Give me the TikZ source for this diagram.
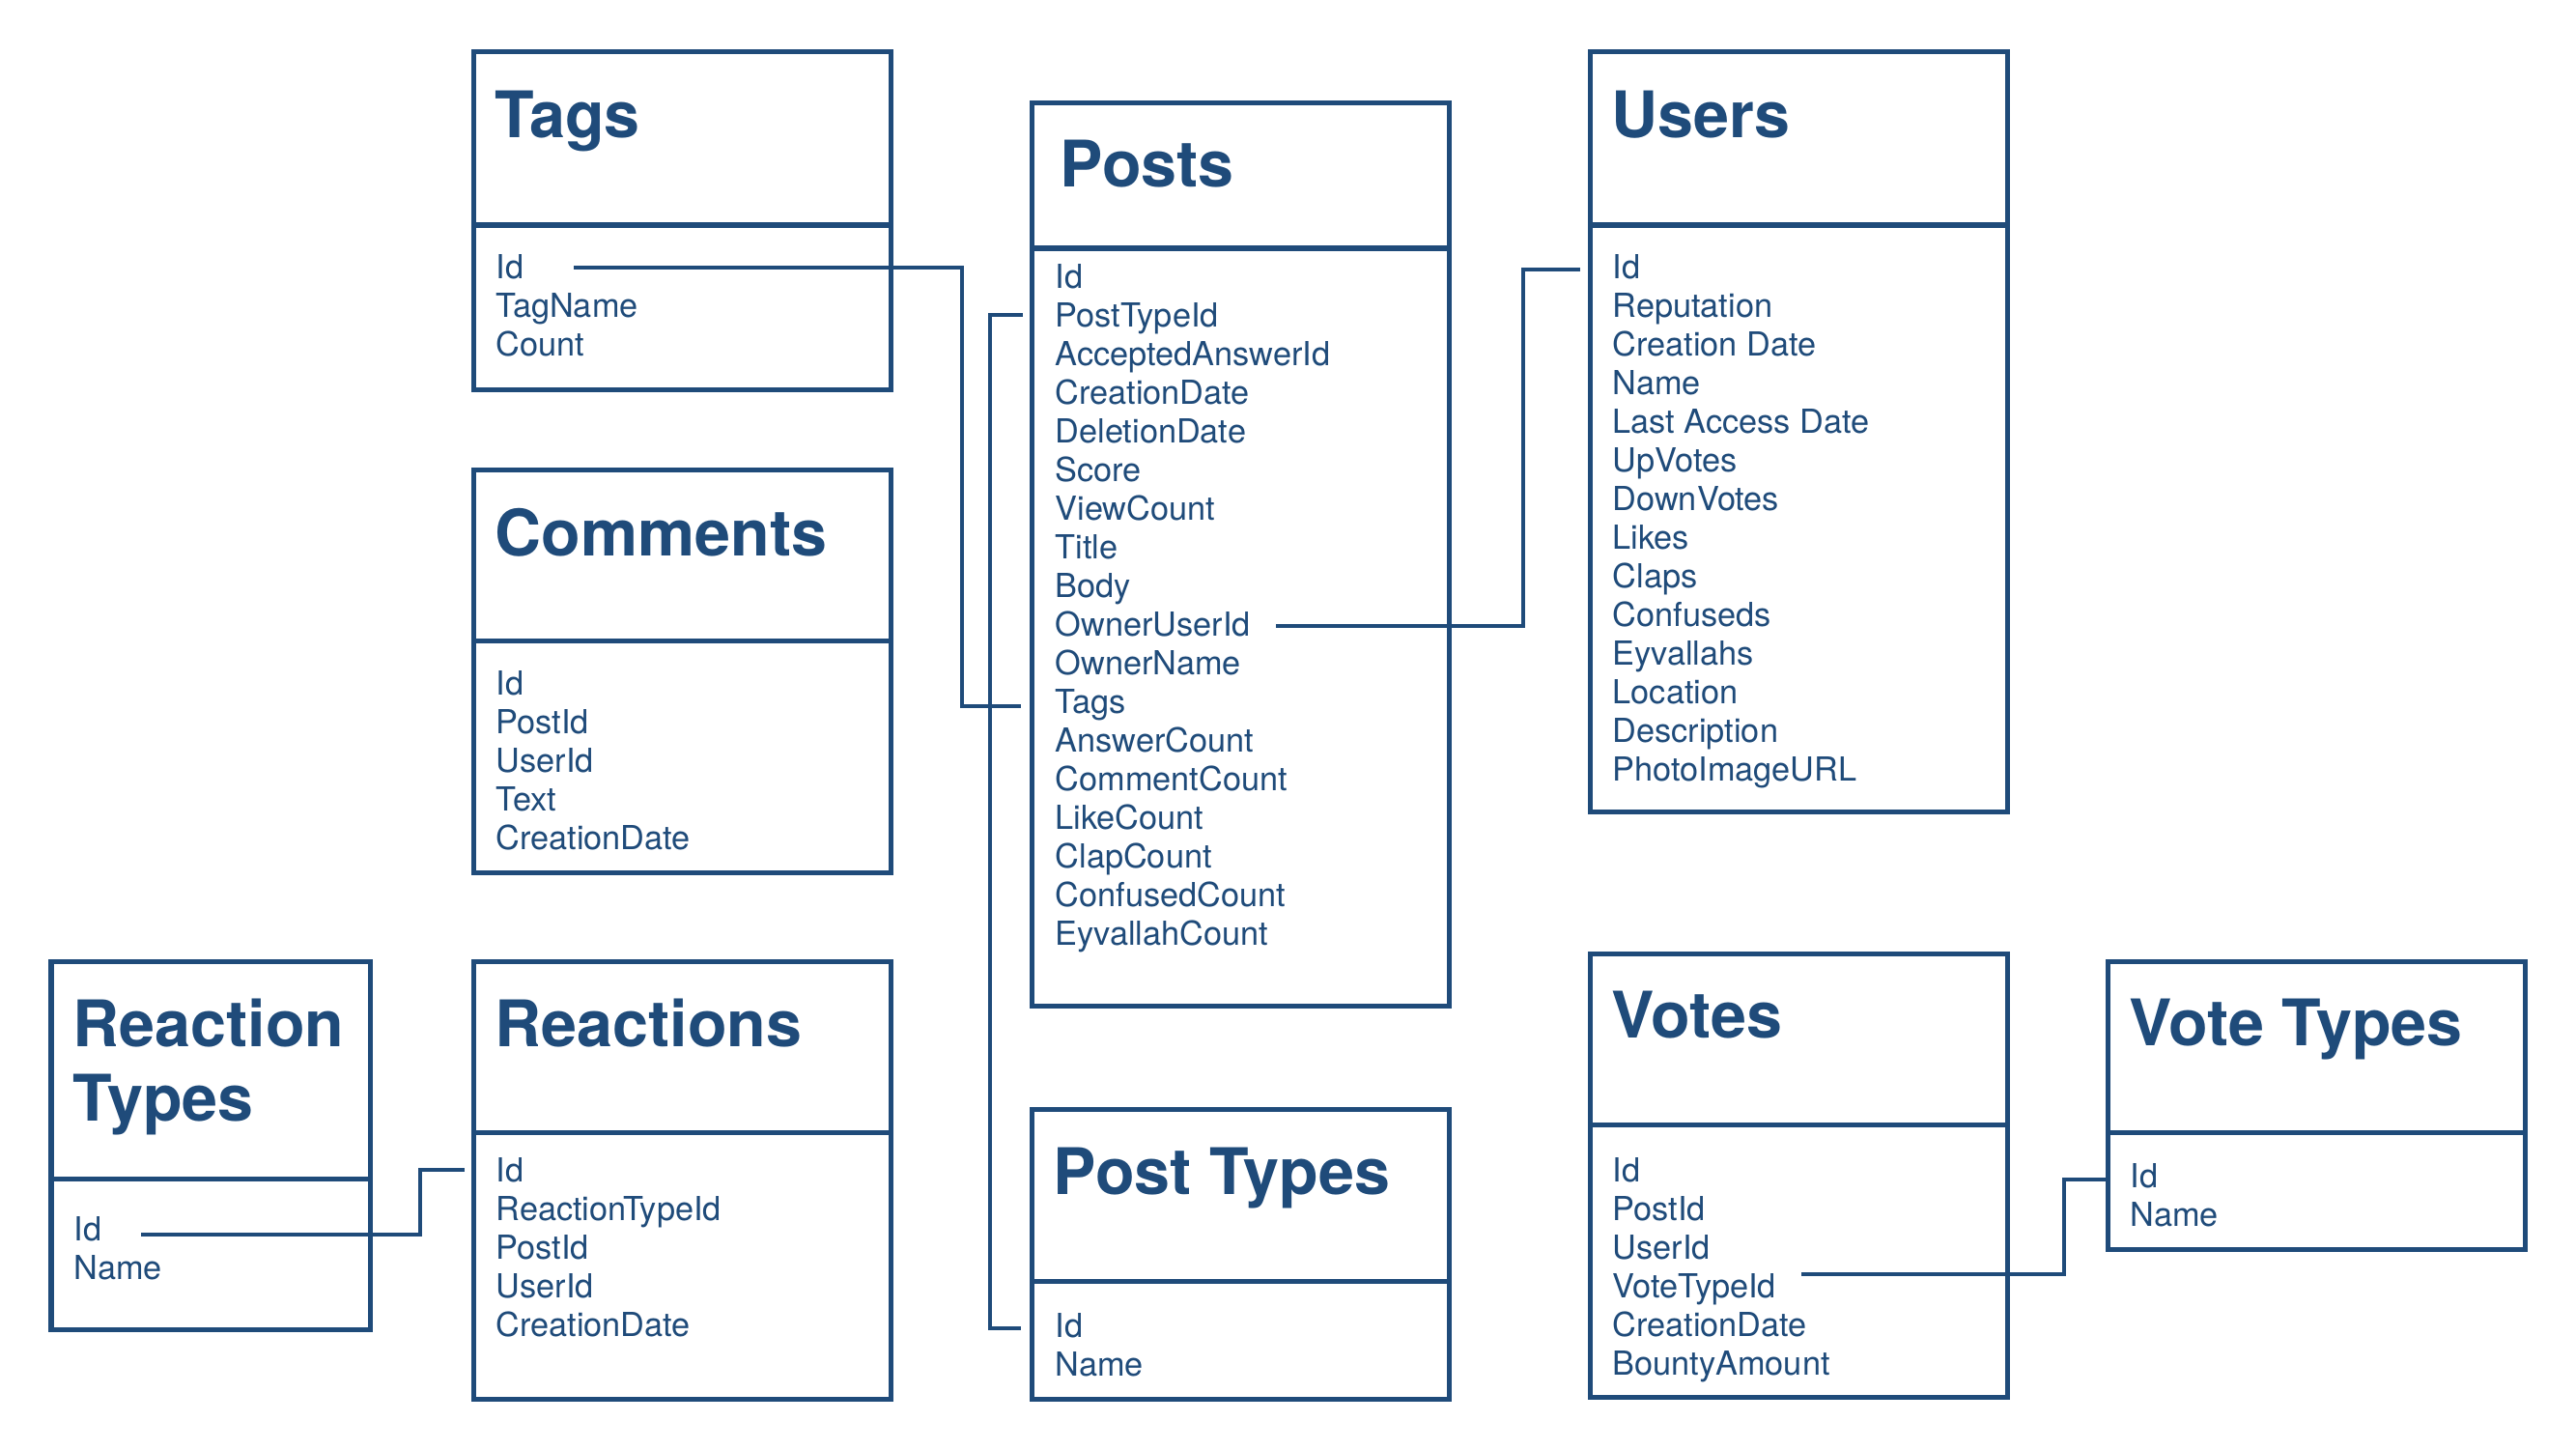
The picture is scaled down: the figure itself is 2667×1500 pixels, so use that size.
\documentclass[tikz,border=0pt]{standalone}
\usepackage{fontspec}
\setmainfont{TeX Gyre Heros}
\definecolor{dbl}{HTML}{1F4B7A}
\begin{document}
\begin{tikzpicture}[x=0.01cm,y=-0.01cm,
  tbl/.style={draw=dbl, line width=0.05cm, anchor=north west, inner sep=0pt, outer sep=0pt, minimum width=4.32cm},
  rule/.style={draw=dbl, line width=0.05cm},
  ttl/.style={anchor=base west, inner sep=0pt, text=dbl, font=\fontsize{18.9}{21.9}\selectfont\bfseries},
  fld/.style={anchor=base west, inner sep=0pt, text=dbl, font=\fontsize{9.75}{11.38}\selectfont},
  link/.style={draw=dbl, line width=0.034cm}]
\fill[white] (0,0) rectangle (2667,1500);
\useasboundingbox (0,0) rectangle (2667,1500);

% ---------- boxes ----------
\node[tbl, minimum height=3.49cm] (tags) at (490,54) {};
\draw[rule] (490,233) -- (922,233);
\node[tbl, minimum height=4.17cm] (comments) at (490,486) {};
\draw[rule] (490,663) -- (922,663);
\node[tbl, minimum width=3.30cm, minimum height=3.81cm] (rtypes) at (53,995) {};
\draw[rule] (53,1220) -- (383,1220);
\node[tbl, minimum height=4.53cm] (reactions) at (490,995) {};
\draw[rule] (490,1172) -- (922,1172);
\node[tbl, minimum height=9.34cm] (posts) at (1068,107) {};
\draw[rule] (1068,257) -- (1500,257);
\node[tbl, minimum height=3.00cm] (ptypes) at (1068,1148) {};
\draw[rule] (1068,1326) -- (1500,1326);
\node[tbl, minimum height=7.86cm] (users) at (1646,54) {};
\draw[rule] (1646,233) -- (2078,233);
\node[tbl, minimum height=4.59cm] (votes) at (1646,987) {};
\draw[rule] (1646,1164) -- (2078,1164);
\node[tbl, minimum height=2.98cm] (vtypes) at (2182,995) {};
\draw[rule] (2182,1172) -- (2614,1172);

% ---------- titles ----------
\node[ttl] (tagsT) at (512,143) {Tags};
\node[ttl] (commentsT) at (512,575) {Comments};
\node[ttl] (rtypesT) at (75,1083) {\begin{tabular}[t]{@{}l@{}}Reaction\\Types\end{tabular}};
\node[ttl] (reactionsT) at (512,1083) {Reactions};
\node[ttl] (postsT) at (1097,194) {Posts};
\node[ttl] (ptypesT) at (1090,1236) {Post Types};
\node[ttl] (usersT) at (1668,143) {Users};
\node[ttl] (votesT) at (1668,1074) {Votes};
\node[ttl] (vtypesT) at (2204,1082) {Vote Types};

% ---------- fields ----------
\node[fld] (tagsF) at (513,288) {\begin{tabular}[t]{@{}l@{}}Id\\TagName\\Count\end{tabular}};
\node[fld] (commentsF) at (513,719) {\begin{tabular}[t]{@{}l@{}}Id\\PostId\\UserId\\Text\\CreationDate\end{tabular}};
\node[fld] (rtypesF) at (76,1284) {\begin{tabular}[t]{@{}l@{}}Id\\Name\end{tabular}};
\node[fld] (reactionsF) at (513,1223) {\begin{tabular}[t]{@{}l@{}}Id\\ReactionTypeId\\PostId\\UserId\\CreationDate\end{tabular}};
\node[fld] (postsF) at (1092,298) {\begin{tabular}[t]{@{}l@{}}Id\\PostTypeId\\AcceptedAnswerId\\CreationDate\\DeletionDate\\Score\\ViewCount\\Title\\Body\\OwnerUserId\\OwnerName\\Tags\\AnswerCount\\CommentCount\\LikeCount\\ClapCount\\ConfusedCount\\EyvallahCount\end{tabular}};
\node[fld] (ptypesF) at (1092,1384) {\begin{tabular}[t]{@{}l@{}}Id\\Name\end{tabular}};
\node[fld] (usersF) at (1669,288) {\begin{tabular}[t]{@{}l@{}}Id\\Reputation\\Creation Date\\Name\\Last Access Date\\UpVotes\\DownVotes\\Likes\\Claps\\Confuseds\\Eyvallahs\\Location\\Description\\PhotoImageURL\end{tabular}};
\node[fld] (votesF) at (1669,1223) {\begin{tabular}[t]{@{}l@{}}Id\\PostId\\UserId\\VoteTypeId\\CreationDate\\BountyAmount\end{tabular}};
\node[fld] (vtypesF) at (2205,1229) {\begin{tabular}[t]{@{}l@{}}Id\\Name\end{tabular}};

% ---------- connector end points ----------
\coordinate (tagsId) at (594,277);
\coordinate (postsTags) at (1057,731);
\coordinate (postsPT) at (1059,326);
\coordinate (ptypesId) at (1057,1375);
\coordinate (postsOwner) at (1321,648);
\coordinate (usersId) at (1636,279);
\coordinate (rtypesId) at (146,1278);
\coordinate (reactionsRT) at (481,1211);
\coordinate (votesVT) at (1865,1319);
\coordinate (vtypesId) at (2182,1221);

% ---------- connectors ----------
\draw[link] (tagsId) -- (996,277) -- (996,731) -- (postsTags);
\draw[link] (postsPT) -- (1025,326) -- (1025,1375) -- (ptypesId);
\draw[link] (postsOwner) -- (1577,648) -- (1577,279) -- (usersId);
\draw[link] (rtypesId) -- (435,1278) -- (435,1211) -- (reactionsRT);
\draw[link] (votesVT) -- (2137,1319) -- (2137,1221) -- (vtypesId);
\end{tikzpicture}
\end{document}
